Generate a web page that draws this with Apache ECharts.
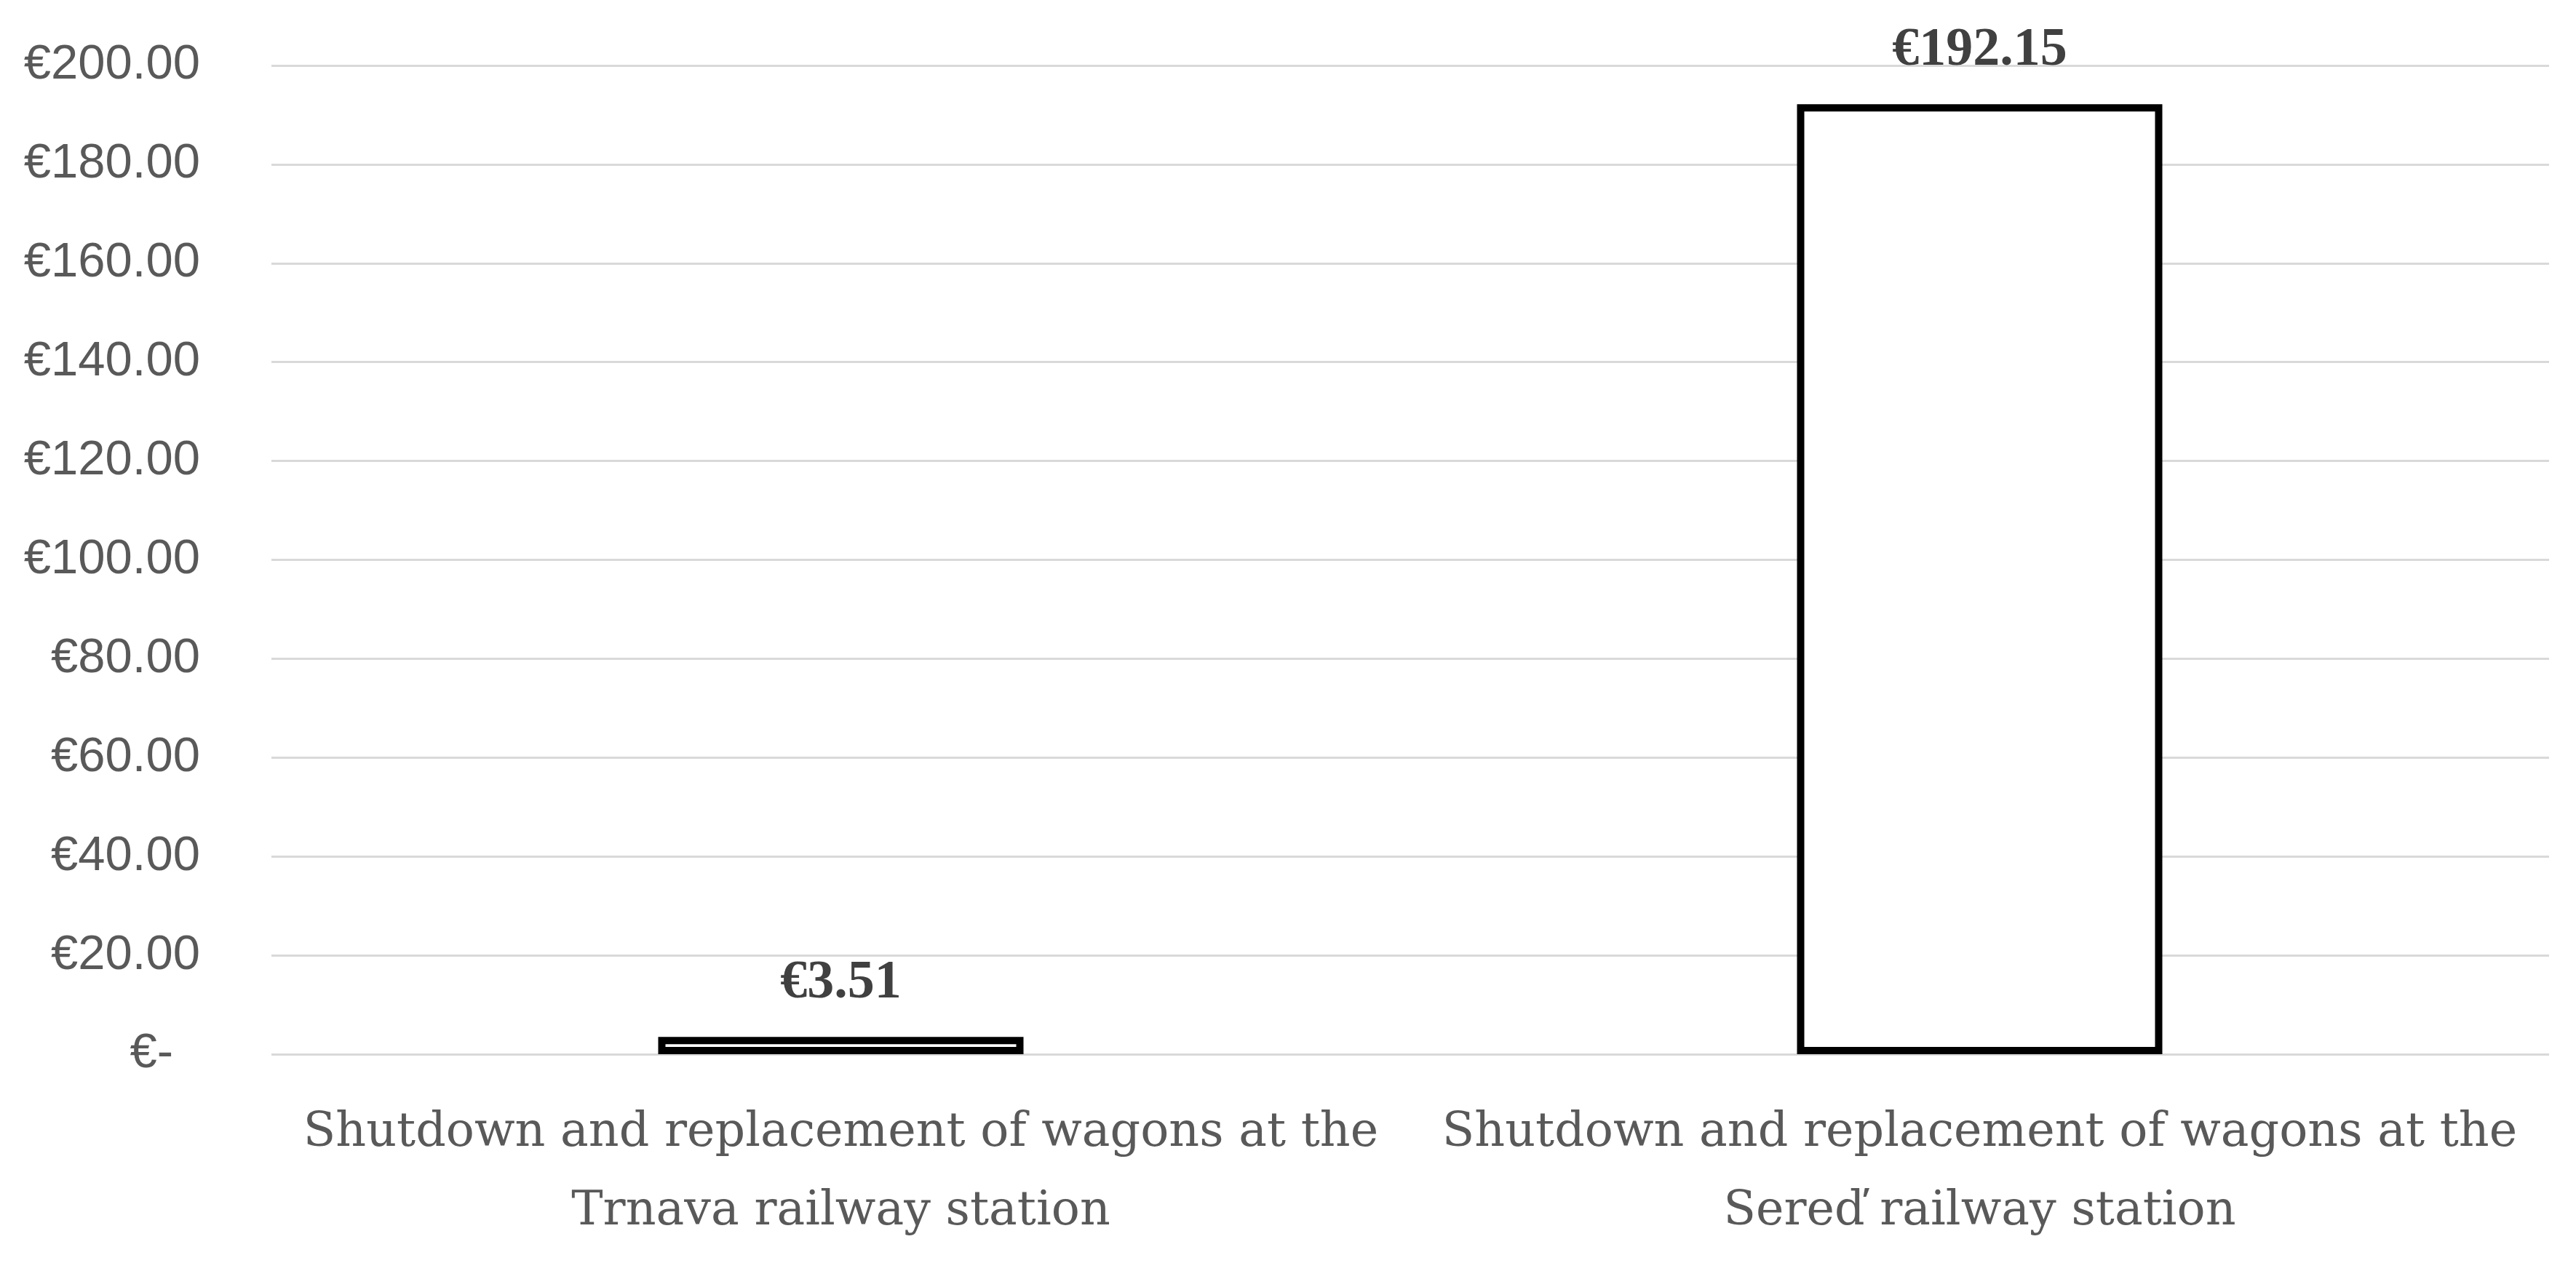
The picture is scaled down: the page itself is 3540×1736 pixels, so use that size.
<!DOCTYPE html>
<html>
<head>
<meta charset="utf-8">
<style>html,body{margin:0;padding:0;background:#fff;}#c{width:3540px;height:1736px;}</style>
<script src="https://cdn.jsdelivr.net/npm/echarts@6/dist/echarts.min.js"></script>
</head>
<body>
<div id="c"></div>
<script>
const categories = [
  'Shutdown and replacement of wagons at the\nTrnava railway station',
  'Shutdown and replacement of wagons at the\nSereď railway station'
];
const values = [3.51, 192.15];
const yTicks = [0, 20, 40, 60, 80, 100, 120, 140, 160, 180, 200];

const chart = echarts.init(document.getElementById('c'), null, {renderer: 'canvas'});
chart.setOption({
  animation: false,
  backgroundColor: '#ffffff',
  grid: {left: 373, right: 37, top: 90, bottom: 287, containLabel: false},
  xAxis: {
    type: 'category',
    data: categories,
    axisLine: {show: false},
    axisTick: {show: false},
    axisLabel: {
      margin: 55,
      fontFamily: 'DejaVu Serif',
      fontSize: 65,
      lineHeight: 108,
      color: '#595959',
      interval: 0
    }
  },
  yAxis: {
    type: 'value',
    min: yTicks[0],
    max: yTicks[yTicks.length - 1],
    interval: 20,
    axisLine: {show: false},
    axisTick: {show: false},
    splitLine: {lineStyle: {color: '#d9d9d9', width: 3}},
    axisLabel: {
      margin: 98,
      fontFamily: 'Liberation Sans',
      fontSize: 67,
      color: '#595959',
      formatter: function (v) {
        if (v === 0) return '{z|€-}';
        return '€' + v.toFixed(2);
      },
      rich: {
        z: {fontFamily: 'Liberation Sans', fontSize: 67, color: '#595959', padding: [0, 37, 0, 0]}
      }
    }
  },
  series: [{
    type: 'bar',
    data: values,
    barWidth: 502,
    itemStyle: {color: '#ffffff', borderColor: '#000000', borderWidth: 10},
    label: {
      show: true,
      position: 'top',
      distance: 36,
      fontFamily: 'Liberation Serif',
      fontWeight: 'bold',
      fontSize: 74,
      color: '#404040',
      formatter: function (p) { return '€' + p.value.toFixed(2); }
    }
  }]
});
</script>
</body>
</html>
